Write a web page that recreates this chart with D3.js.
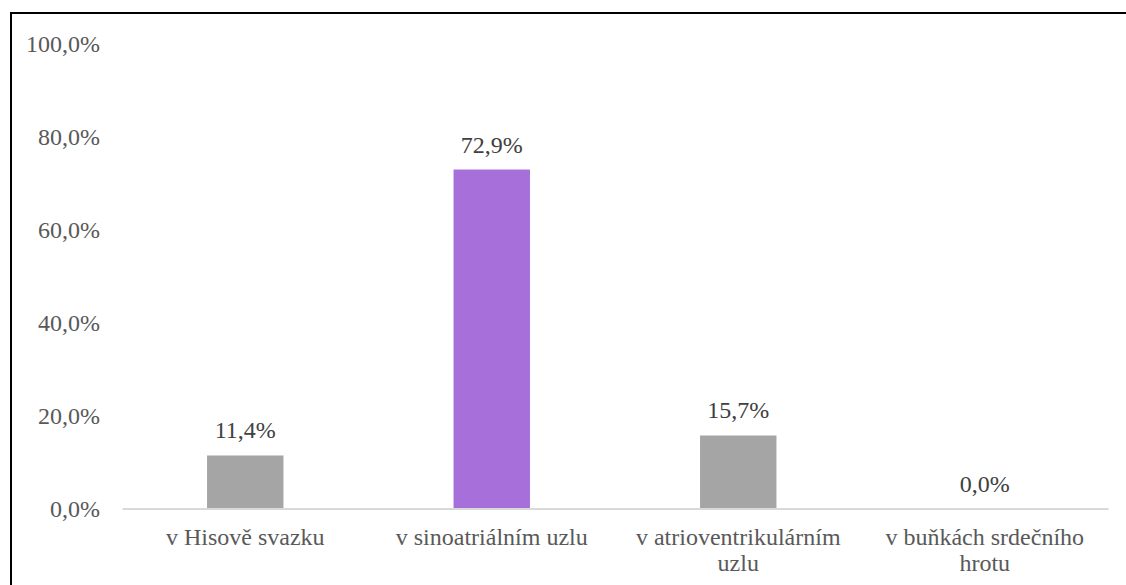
<!DOCTYPE html>
<html>
<head>
<meta charset="utf-8">
<script src="https://cdn.jsdelivr.net/npm/d3@7"></script>
</head>
<body style="margin:0">
<svg id="chart" width="1126" height="585"></svg>
<script>
// Categories (each label split into its display lines)
const categories = [
  ["v Hisově svazku"],
  ["v sinoatriálním uzlu"],
  ["v atrioventrikulárním", "uzlu"],
  ["v buňkách srdečního", "hrotu"]
];
// Share of answers, in percent
const values = [11.4, 72.9, 15.7, 0.0];
// Highlighted bar gets its own colour
const barColors = ["#A5A5A5", "#A66FD9", "#A5A5A5", "#A5A5A5"];
const yTicks = [0, 20, 40, 60, 80, 100];

const fmt = v => v.toFixed(1).replace(".", ",") + "%";
// Times-like face for every label
const faceName = ["Liberation", "Serif"].join(" ");
const face = () => `"${faceName}"`;

const svg = d3.select("#chart").style("display", "block");

// outer frame
svg.append("rect")
  .attr("x", 11).attr("y", 13)
  .attr("width", 1126).attr("height", 600)
  .attr("fill", "none").attr("stroke", "#000").attr("stroke-width", 2);

const plotLeft = 122, plotRight = 1108, plotTop = 43.5, plotBottom = 508.5;

const x = d3.scaleBand()
  .domain(d3.range(categories.length))
  .range([plotLeft, plotRight])
  .paddingInner(0.69)
  .paddingOuter(0.345);

const y = d3.scaleLinear().domain([0, 100]).range([plotBottom, plotTop]);

// y axis labels (no axis line or gridlines)
const yAxis = d3.axisLeft(y).tickValues(yTicks).tickFormat(fmt).tickSize(0).tickPadding(0);
const yg = svg.append("g").attr("transform", `translate(100,0)`).call(yAxis);
yg.attr("font-family", null).attr("font-size", null);
yg.select(".domain").remove();
yg.selectAll("text")
  .style("font-family", face).style("font-size", "24px")
  .attr("fill", "#595959").attr("dy", "0.33em");

// bars
svg.append("g").selectAll("rect")
  .data(values)
  .join("rect")
  .attr("x", (d, i) => x(i))
  .attr("width", x.bandwidth())
  .attr("y", d => y(d))
  .attr("height", d => y(0) - y(d))
  .attr("fill", (d, i) => barColors[i]);

// baseline
const xAxis = d3.axisBottom(x).tickSize(0).tickFormat("");
const xg = svg.append("g").attr("transform", `translate(0,${plotBottom})`).call(xAxis);
xg.select(".domain").attr("stroke", "#D9D9D9").attr("stroke-width", 2);

// category labels, one text element per line
const center = i => x(i) + x.bandwidth() / 2;
const catLines = categories.flatMap((lines, i) => lines.map((t, j) => ({ t, i, j })));
svg.selectAll("text.cat")
  .data(catLines)
  .join("text")
  .attr("class", "cat")
  .style("font-family", face).style("font-size", "24px")
  .attr("fill", "#595959")
  .attr("text-anchor", "middle")
  .attr("x", d => center(d.i))
  .attr("y", d => 545 + d.j * 26)
  .text(d => d.t);

// value labels
svg.selectAll("text.val")
  .data(values)
  .join("text")
  .attr("class", "val")
  .style("font-family", face).style("font-size", "24px")
  .attr("fill", "#404040")
  .attr("text-anchor", "middle")
  .attr("x", (d, i) => center(i))
  .attr("y", d => y(d) - 17)
  .text(fmt);
</script>
</body>
</html>
